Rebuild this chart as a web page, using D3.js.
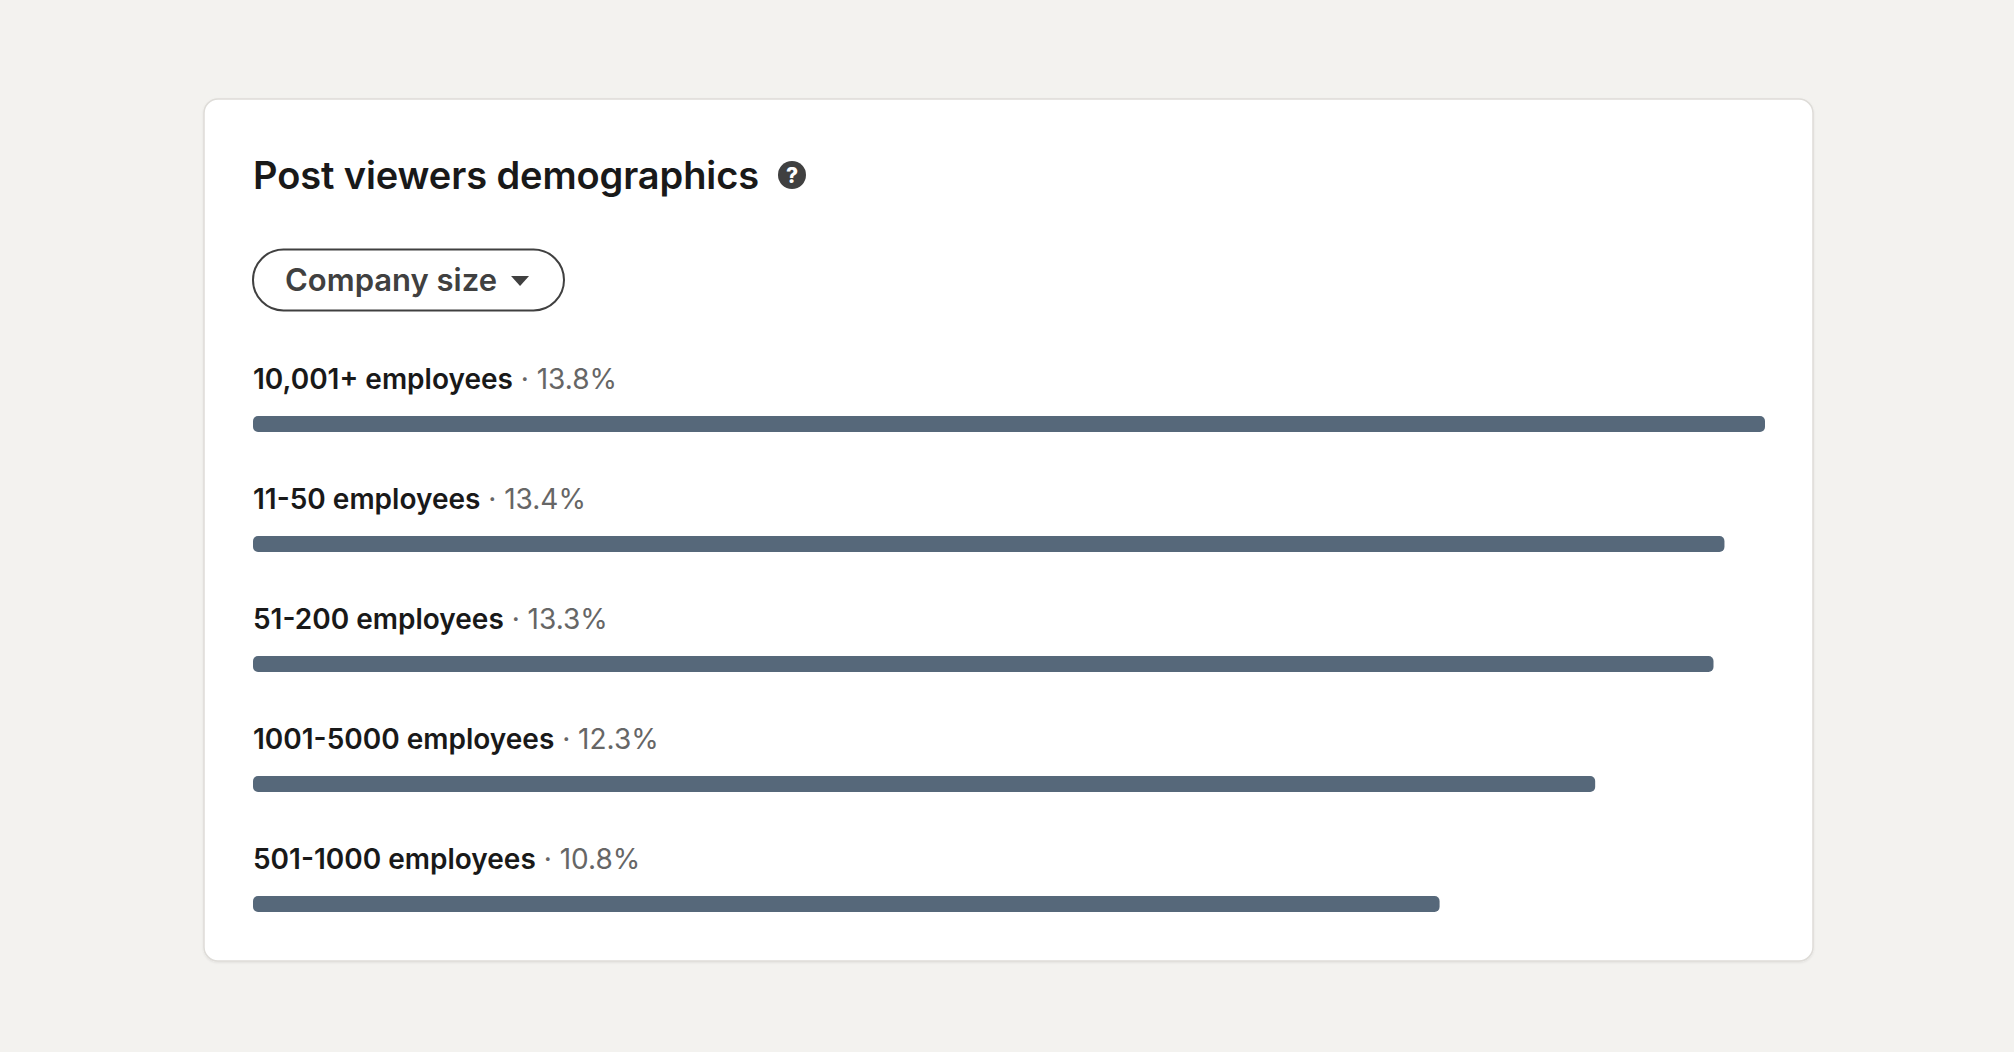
<!DOCTYPE html>
<html>
<head>
<meta charset="utf-8">
<script src="https://cdn.jsdelivr.net/npm/d3@7"></script>
<style>
  html, body { margin: 0; padding: 0; background: #f3f2ef; }
  svg { display: block; }
  text { font-family: Inter, "Noto Sans", sans-serif; }
</style>
</head>
<body>
<svg id="chart" width="2014" height="1052"></svg>
<script>
const title = "Post viewers demographics";
const filterLabel = "Company size";
const categories = ["10,001+ employees", "11-50 employees", "51-200 employees", "1001-5000 employees", "501-1000 employees"];
const values = [13.8, 13.43, 13.33, 12.25, 10.83];
const valueLabels = ["13.8%", "13.4%", "13.3%", "12.3%", "10.8%"];

const rows = categories.map((c, i) => ({ cat: c, value: values[i], label: valueLabels[i] }));

const svg = d3.select("#chart");
const W = 2014, H = 1052;

svg.append("rect").attr("width", W).attr("height", H).attr("fill", "#f3f2ef");

// card
const defs = svg.append("defs");
const f = defs.append("filter").attr("id", "sh").attr("x", "-5%").attr("y", "-5%").attr("width", "110%").attr("height", "110%");
f.append("feDropShadow").attr("dx", 0).attr("dy", 1).attr("stdDeviation", 1).attr("flood-color", "#000").attr("flood-opacity", 0.08);

svg.append("rect")
  .attr("x", 204).attr("y", 99).attr("width", 1609).attr("height", 862)
  .attr("rx", 14).attr("fill", "#ffffff")
  .attr("stroke", "#dedcd8").attr("stroke-width", 1.5)
  .attr("filter", "url(#sh)");

const left = 253;

// title
const t = svg.append("text")
  .attr("x", left).attr("y", 189)
  .attr("font-size", 38).attr("font-weight", 600)
  .attr("fill", "#191919").attr("letter-spacing", -0.1)
  .text(title);

// help icon
const tw = t.node().getComputedTextLength();
const hx = left + tw + 33;
svg.append("circle").attr("cx", hx).attr("cy", 175).attr("r", 14).attr("fill", "#404040");
svg.append("text").attr("x", hx).attr("y", 183).attr("text-anchor", "middle")
  .attr("font-size", 21).attr("font-weight", 800).attr("fill", "#fff").text("?");

// filter button
svg.append("rect")
  .attr("x", left).attr("y", 249.5).attr("width", 311).attr("height", 61)
  .attr("rx", 30.5).attr("fill", "#fff")
  .attr("stroke", "#404040").attr("stroke-width", 2);
const bt = svg.append("text")
  .attr("x", 285).attr("y", 291)
  .attr("font-size", 31).attr("font-weight", 600).attr("fill", "#404040")
  .attr("letter-spacing", 0)
  .text(filterLabel);
const bx = 285 + bt.node().getComputedTextLength() + 14;
svg.append("path")
  .attr("d", `M${bx},${276} L${bx + 18},${276} L${bx + 9},${286} Z`)
  .attr("fill", "#404040");

// scales
const x = d3.scaleLinear().domain([0, d3.max(values)]).range([left, 1765]);
const y = d3.scaleBand().domain(categories).range([349, 949]).paddingInner(0);

const g = svg.append("g");
const row = g.selectAll("g.row").data(rows).join("g").attr("class", "row")
  .attr("transform", d => `translate(0,${y(d.cat)})`);

const lbl = row.append("text")
  .attr("x", left).attr("y", 40)
  .attr("font-size", 28).attr("letter-spacing", 0);
lbl.append("tspan").attr("font-weight", 600).attr("fill", "#191919").text(d => d.cat);
lbl.append("tspan").attr("font-weight", 400).attr("fill", "#666666").text(d => " · " + d.label);

row.append("rect")
  .attr("x", x(0)).attr("y", 67)
  .attr("width", d => x(d.value) - x(0)).attr("height", 16)
  .attr("rx", 5).attr("fill", "#56687a");
</script>
</body>
</html>
